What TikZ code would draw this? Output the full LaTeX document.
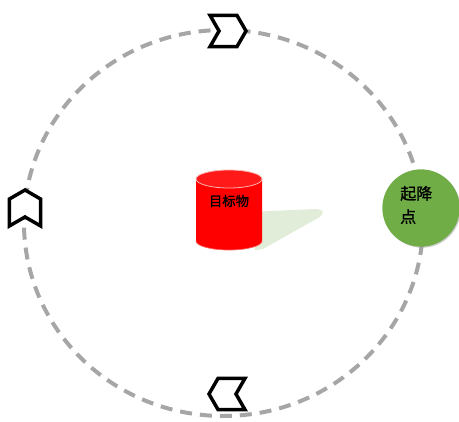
\documentclass[tikz,border=0pt]{standalone}
\usepackage{fontspec}
\newfontfamily\cjk{Noto Sans CJK SC}[FakeBold=1.2]
\usetikzlibrary{shapes.symbols,shadows}
\definecolor{routegray}{HTML}{A6A6A6}
\definecolor{padgreen}{HTML}{70AD47}
\definecolor{shadowgreen}{HTML}{E2EDD9}
\begin{document}
\begin{tikzpicture}[x=0.75pt,y=-0.75pt,
  route/.style={draw=routegray, line width=3pt, dash pattern=on 9pt off 6pt},
  chevron/.style={signal, signal to=east, signal from=west, signal pointer angle=120,
    draw=black, fill=white, line width=2.6pt, minimum width=27pt, minimum height=23.5pt,
    inner sep=0pt, outer sep=0pt},
  padcircle/.style={circle, fill=padgreen, minimum size=58pt, inner sep=0pt,
    drop shadow={shadow xshift=0.8pt, shadow yshift=-0.8pt, fill=black!40, opacity=0.5}},
  txt/.style={text=black, inner sep=0pt, align=left}
]
\useasboundingbox (0,0) rectangle (459,421);

% circular route
\coordinate (O) at (223.5,223);
\draw[route] (O) ellipse [x radius=199.5, y radius=193];

% shadow cast by the target
\fill[shadowgreen] (250,212) -- (314,209) .. controls (324,209) and (326,213) .. (318,218)
  -- (270,245) .. controls (265,248) and (262,250) .. (255,250) -- cycle;

% target cylinder
\fill[red] (196,179) -- (196,241) arc[start angle=180, end angle=0, x radius=33, y radius=9]
  -- (262,179) -- cycle;
\draw[red!60!white, line width=0.5pt] (196,241) arc[start angle=180, end angle=0, x radius=33, y radius=9];
\fill[red!90!white] (229,179) ellipse[x radius=33, y radius=9];
\draw[red!30!white, line width=0.6pt] (229,179) ellipse[x radius=33, y radius=9];
\node[txt, font=\cjk\fontsize{10pt}{12pt}\selectfont] (target) at (229,201) {目标物};

% take-off and landing point
\node[padcircle] (pad) at (421,208) {};
\node[txt, font=\cjk\fontsize{12pt}{17.5pt}\selectfont, anchor=west] (padlabel) at (400,205) {起降\\点};

% direction markers along the route
\node[chevron] (chtop) at (228,31) {};
\node[chevron, rotate=90] (chleft) at (25,208) {};
\node[chevron, rotate=180] (chbottom) at (227,394) {};
\end{tikzpicture}
\end{document}
